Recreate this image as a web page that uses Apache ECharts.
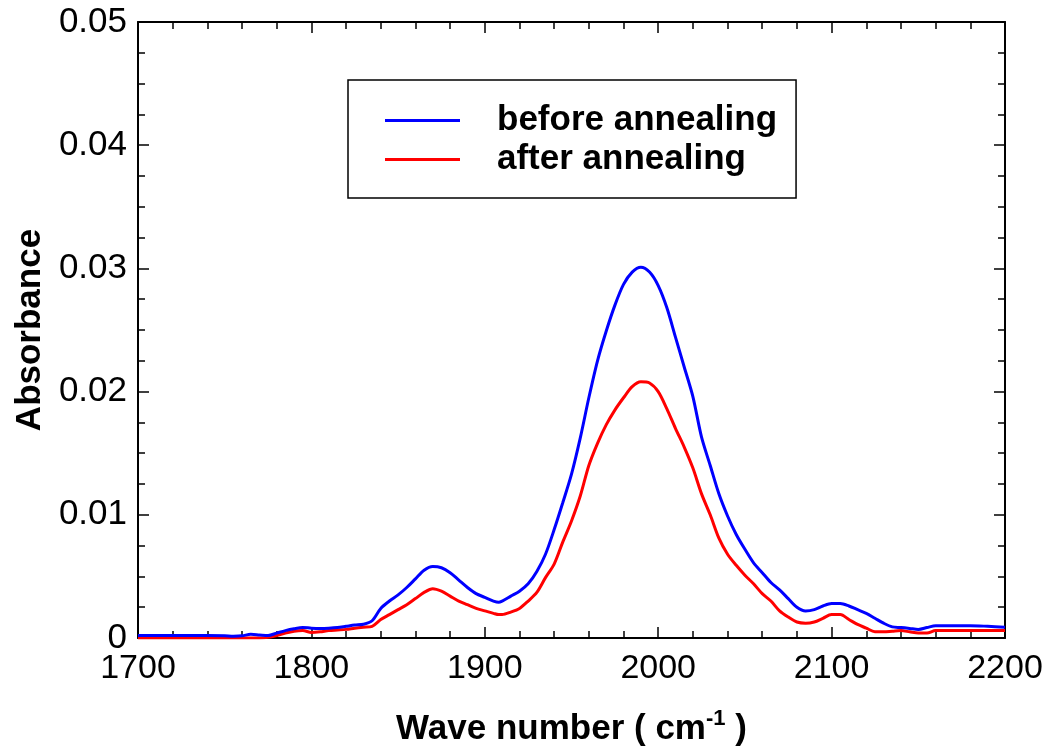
<!DOCTYPE html>
<html>
<head>
<meta charset="utf-8">
<script src="https://cdn.jsdelivr.net/npm/echarts@6/dist/echarts.min.js"></script>
<style>
  html, body { margin: 0; padding: 0; background: #fff; }
  #chart { width: 1051px; height: 749px; }
</style>
</head>
<body>
<div id="chart"></div>
<script>
// FTIR absorbance spectra, wave number in cm^-1
const waveNumbers = [
  1700, 1710, 1720, 1730, 1740, 1750, 1755, 1760, 1765, 1770, 1775, 1780, 1785, 1790, 1795,
  1800, 1805, 1810, 1815, 1820, 1825, 1830, 1835, 1840, 1845, 1850, 1855, 1860, 1865, 1870,
  1875, 1880, 1885, 1890, 1895, 1900, 1905, 1908, 1910, 1915, 1920, 1925, 1930, 1935, 1940,
  1945, 1950, 1955, 1960, 1965, 1970, 1975, 1980, 1985, 1990, 1995, 2000, 2005, 2010, 2015,
  2020, 2025, 2030, 2035, 2040, 2045, 2050, 2055, 2060, 2065, 2070, 2075, 2080, 2085, 2090,
  2095, 2100, 2105, 2110, 2115, 2120, 2125, 2130, 2135, 2140, 2145, 2150, 2155, 2160, 2170,
  2180, 2190, 2200
];

const beforeAnnealing = [
  0.0002, 0.0002, 0.0002, 0.0002, 0.0002, 0.00018, 0.00015, 0.00018, 0.0003, 0.00025, 0.0002, 0.0004, 0.0006, 0.00075, 0.00085,
  0.0008, 0.00078, 0.0008, 0.00085, 0.00095, 0.00105, 0.00112, 0.0014, 0.0024, 0.0030, 0.0035, 0.0041, 0.0048, 0.0055, 0.0058,
  0.0057, 0.0053, 0.0047, 0.0041, 0.0036, 0.0033, 0.0030, 0.0029, 0.0030, 0.0034, 0.0038, 0.0044, 0.0054, 0.0068, 0.0088,
  0.0110, 0.0133, 0.0162, 0.0195, 0.0225, 0.0249, 0.0270, 0.0287, 0.0297, 0.0301, 0.0297, 0.0286, 0.0268, 0.0244, 0.0220,
  0.0196, 0.0163, 0.0140, 0.0117, 0.0099, 0.0084, 0.0072, 0.0061, 0.0053, 0.0045, 0.0039, 0.0032, 0.0025, 0.0022, 0.0023,
  0.0026, 0.0028, 0.0028, 0.0026, 0.0023, 0.0020, 0.0016, 0.0012, 0.0009, 0.00085, 0.00078, 0.0007, 0.00085, 0.0010, 0.0010,
  0.0010, 0.00095, 0.00088
];

const afterAnnealing = [
  0.0, 0.0, 0.0, 0.0, 0.0, 0.0, 0.0, 0.0, 0.0, 0.0, 0.00005, 0.0002, 0.0004, 0.00055, 0.0006,
  0.00045, 0.0005, 0.0006, 0.00065, 0.0007, 0.0008, 0.00088, 0.00095, 0.0015, 0.0019, 0.0023, 0.0027, 0.0032, 0.0037, 0.0040,
  0.0038, 0.0034, 0.0030, 0.0027, 0.0024, 0.0022, 0.0020, 0.0019, 0.0019, 0.0021, 0.0024, 0.0030, 0.0037, 0.0049, 0.0060,
  0.0078, 0.0095, 0.0115, 0.0140, 0.0158, 0.0173, 0.0185, 0.0195, 0.0204, 0.0208, 0.0207, 0.0200, 0.0186, 0.0170, 0.0155,
  0.0138, 0.0117, 0.0100, 0.0081, 0.0068, 0.0059, 0.0051, 0.0044, 0.0036, 0.0030, 0.0022, 0.0017, 0.0013, 0.0012, 0.0013,
  0.0016, 0.0019, 0.0019, 0.0015, 0.0011, 0.0008, 0.0005, 0.0005, 0.00055, 0.0006, 0.0005, 0.0004, 0.0004, 0.0006, 0.0006,
  0.0006, 0.0006, 0.0006
];

const seriesNames = ['before annealing', 'after annealing'];
const seriesColors = ['#0000ff', '#ff0000'];

const xRange = [1700, 2200, 100];
const yRange = [0, 0.05, 0.01];

const FONT = '"Liberation Sans", Arial, Helvetica, sans-serif';

function pairs(xs, ys) {
  return xs.map((x, i) => [x, ys[i]]);
}

const tickCommon = { inside: true, length: 11, lineStyle: { color: '#000', width: 1.5 } };
const minorCommon = { show: true, length: 7, lineStyle: { color: '#000', width: 1.5 } };
const lineCommon = { show: true, onZero: false, lineStyle: { color: '#000', width: 2 } };

const chart = echarts.init(document.getElementById('chart'), null, { renderer: 'canvas' });

chart.setOption({
  backgroundColor: '#fff',
  animation: false,
  textStyle: { fontFamily: FONT },
  grid: { left: 138, right: 46, top: 22, bottom: 111, containLabel: false, outerBoundsMode: 'none' },
  legend: {
    orient: 'vertical',
    left: 348,
    top: 80,
    data: seriesNames,
    icon: 'rect',
    itemWidth: 75,
    itemHeight: 3,
    itemGap: 4,
    padding: [23, 19, 21, 37],
    borderColor: '#000',
    borderWidth: 1.5,
    borderRadius: 0,
    textStyle: { fontFamily: FONT, fontSize: 35, fontWeight: 'bold', color: '#000', padding: [0, 0, 0, 32] }
  },
  xAxis: [
    {
      type: 'value',
      min: xRange[0], max: xRange[1], interval: xRange[2],
      position: 'bottom',
      axisLine: lineCommon,
      axisTick: tickCommon,
      minorTick: Object.assign({ splitNumber: 5 }, minorCommon),
      splitLine: { show: false },
      axisLabel: { margin: 14, fontSize: 34, color: '#000', fontFamily: FONT, formatter: v => String(v) },
      name: '{t|Wave number ( cm}{s|-1}{t| )}',
      nameLocation: 'middle',
      nameGap: 70,
      nameTextStyle: {
        rich: {
          t: { fontFamily: FONT, fontSize: 35, fontWeight: 'bold', color: '#000' },
          s: { fontFamily: FONT, fontSize: 22, fontWeight: 'bold', color: '#000', padding: [0, 0, 20, 0] }
        }
      }
    },
    {
      type: 'value',
      min: xRange[0], max: xRange[1], interval: xRange[2],
      position: 'top',
      axisLine: lineCommon,
      axisTick: tickCommon,
      minorTick: Object.assign({ splitNumber: 5 }, minorCommon),
      splitLine: { show: false },
      axisLabel: { show: false }
    }
  ],
  yAxis: [
    {
      type: 'value',
      min: yRange[0], max: yRange[1], interval: yRange[2],
      position: 'left',
      axisLine: lineCommon,
      axisTick: tickCommon,
      minorTick: Object.assign({ splitNumber: 4 }, minorCommon),
      splitLine: { show: false },
      axisLabel: {
        margin: 11, fontSize: 35, color: '#000', fontFamily: FONT,
        formatter: v => (v === 0 ? '0' : v.toFixed(2))
      },
      name: 'Absorbance',
      nameLocation: 'middle',
      nameGap: 85,
      nameRotate: 90,
      nameTextStyle: { fontFamily: FONT, fontSize: 35, fontWeight: 'bold', color: '#000' }
    },
    {
      type: 'value',
      min: yRange[0], max: yRange[1], interval: yRange[2],
      position: 'right',
      axisLine: lineCommon,
      axisTick: tickCommon,
      minorTick: Object.assign({ splitNumber: 4 }, minorCommon),
      splitLine: { show: false },
      axisLabel: { show: false }
    }
  ],
  series: [
    {
      name: seriesNames[0],
      type: 'line',
      data: pairs(waveNumbers, beforeAnnealing),
      showSymbol: false,
      smooth: 0.3,
      color: seriesColors[0],
      lineStyle: { width: 3, color: seriesColors[0] },
      z: 3
    },
    {
      name: seriesNames[1],
      type: 'line',
      data: pairs(waveNumbers, afterAnnealing),
      showSymbol: false,
      smooth: 0.3,
      color: seriesColors[1],
      lineStyle: { width: 3, color: seriesColors[1] },
      z: 2
    }
  ]
});
</script>
</body>
</html>
